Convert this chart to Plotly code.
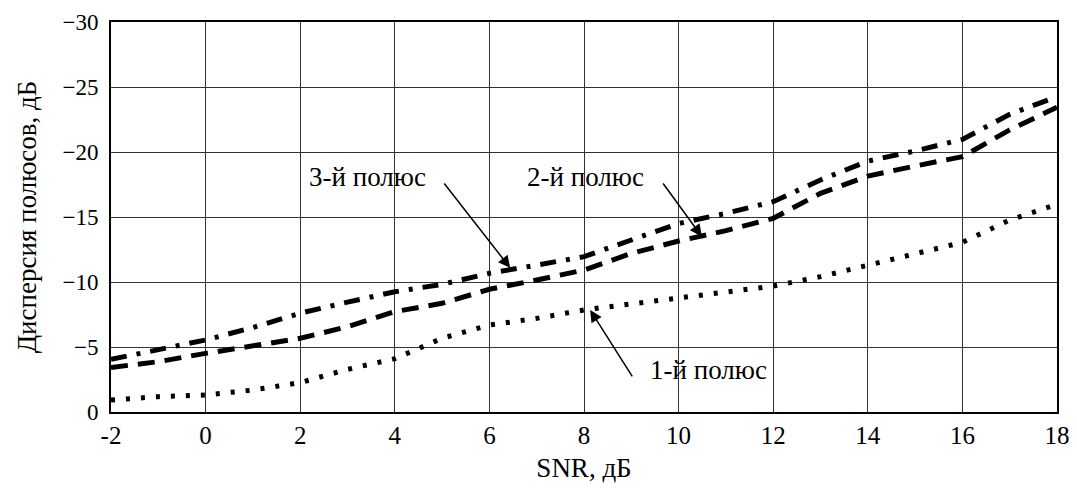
import plotly.graph_objects as go

snr = [-2, -1, 0, 1, 2, 3, 4, 5, 6, 7, 8, 9, 10, 11, 12, 13, 14, 15, 16, 17, 18]

pole1 = [-0.92, -1.18, -1.31, -1.69, -2.26, -3.28, -4.1, -5.67, -6.69, -7.2, -7.85,
         -8.3, -8.74, -9.25, -9.69, -10.41, -11.31, -12.15, -13.05, -14.77, -15.97]
pole2 = [-3.43, -3.87, -4.51, -5.08, -5.67, -6.56, -7.72, -8.36, -9.44, -10.15, -10.92,
         -12.2, -13.15, -13.95, -14.9, -16.82, -18.15, -18.92, -19.64, -21.7, -23.44]
pole3 = [-4.05, -4.82, -5.54, -6.5, -7.6, -8.45, -9.25, -9.82, -10.67, -11.3, -11.95,
         -13.23, -14.5, -15.28, -16.18, -17.85, -19.3, -20.08, -20.97, -22.9, -24.26]

x_ticks = [-2, 0, 2, 4, 6, 8, 10, 12, 14, 16, 18]
x_ticktext = ["-2", "0", "2", "4", "6", "8", "10", "12", "14", "16", "18"]
y_ticks = [0, -5, -10, -15, -20, -25, -30]
y_ticktext = ["0", "\u22125", "\u221210", "\u221215", "\u221220", "\u221225", "\u221230"]

labels = ["1-й полюс", "2-й полюс", "3-й полюс"]
label_pos = [(10.64, -3.23), (8.04, -18.08), (3.43, -18.08)]
arrow_tail = [(9.04, -2.62), (9.65, -17.69), (5.02, -17.69)]
arrow_head = [(8.13, -7.85), (10.49, -13.5), (6.44, -11.08)]

FONT = "Liberation Serif"

fig = go.Figure()
fig.add_trace(go.Scatter(x=snr, y=pole1, mode="lines", name=labels[0],
                         line=dict(color="black", width=5, dash="4px,11px")))
fig.add_trace(go.Scatter(x=snr, y=pole2, mode="lines", name=labels[1],
                         line=dict(color="black", width=5, dash="17px,10px")))
fig.add_trace(go.Scatter(x=snr, y=pole3, mode="lines", name=labels[2],
                         line=dict(color="black", width=5, dash="16px,10px,4px,10px")))

annotations = []
for txt, (tx, ty), (ax, ay), (hx, hy) in zip(labels, label_pos, arrow_tail, arrow_head):
    annotations.append(dict(x=tx, y=ty, xref="x", yref="y", text=txt, showarrow=False,
                            font=dict(family=FONT, size=27, color="black")))
    annotations.append(dict(x=hx, y=hy, xref="x", yref="y", ax=ax, ay=ay,
                            axref="x", ayref="y", text="", showarrow=True,
                            arrowhead=2, arrowsize=1.6, arrowwidth=1.5,
                            arrowcolor="black", standoff=0, startstandoff=0))

# The page body adds an 8px margin; the figure is offset by it.
fig.update_layout(
    width=1069, height=483,
    margin=dict(l=103, r=20, t=14, b=79, autoexpand=False),
    paper_bgcolor="white", plot_bgcolor="white",
    showlegend=False,
    font=dict(family=FONT, size=24, color="black"),
    annotations=annotations,
)
fig.update_xaxes(
    range=[-2, 18], tickvals=x_ticks, ticktext=x_ticktext, automargin=False,
    showgrid=True, gridcolor="#333", gridwidth=1,
    showline=True, linecolor="black", linewidth=2, mirror=True,
    zeroline=False, ticks="", ticklen=0,
    tickfont=dict(family=FONT, size=25, color="black"),
    title=dict(text="SNR, дБ", font=dict(family=FONT, size=27, color="black"), standoff=10),
)
fig.update_yaxes(
    range=[0, -30], tickvals=y_ticks, ticktext=y_ticktext, automargin=False,
    showgrid=True, gridcolor="#333", gridwidth=1,
    showline=True, linecolor="black", linewidth=2, mirror=True,
    zeroline=False, ticks="", ticklen=0, ticklabelstandoff=6,
    tickfont=dict(family=FONT, size=23, color="black"),
    title=dict(text="Дисперсия полюсов, дБ", font=dict(family=FONT, size=27, color="black"), standoff=18),
)

fig.write_html("out.html")
